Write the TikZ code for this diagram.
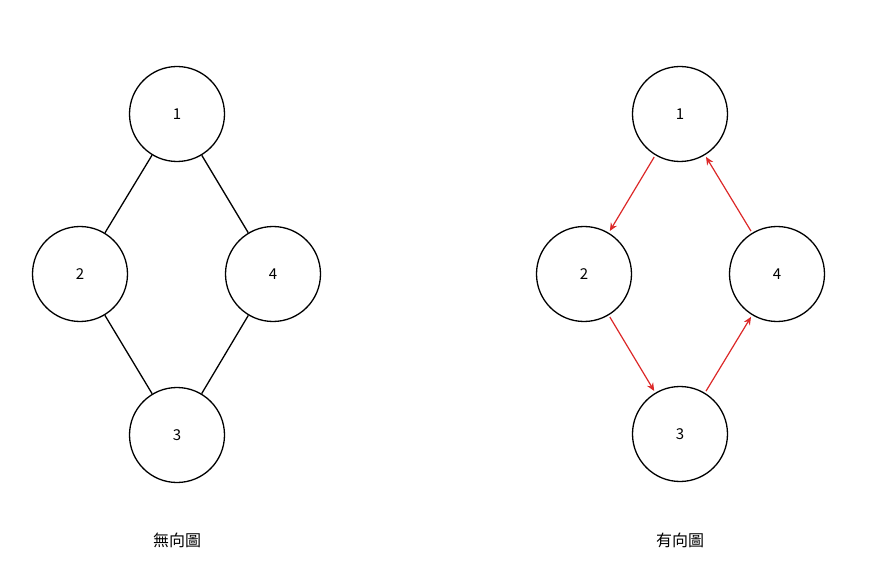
\documentclass[tikz,border=0pt]{standalone}
\usepackage{fontspec}
\newfontfamily\cjk{Noto Sans CJK TC}
\usetikzlibrary{arrows.meta,positioning}
\tikzset{
  vertex/.style={circle, draw, line width=1.3pt, minimum size=95pt, inner sep=0pt, font=\cjk\fontsize{15}{15}\selectfont},
  dirEdge/.style={-{Stealth[length=8pt,width=7pt]}, draw={rgb,255:red,220;green,40;blue,40}, line width=1.2pt, shorten <=2pt, shorten >=2pt},
  caption/.style={font=\cjk\fontsize{16}{16}\selectfont}
}
\begin{document}
\begin{tikzpicture}[x=1pt, y=-1pt]
  \useasboundingbox (0,0) rectangle (870,577);
  % undirected
  \node[vertex] (u1) at (177,114) {1};
  \node[vertex] (u2) at (80,274) {2};
  \node[vertex] (u4) at (273,274) {4};
  \node[vertex] (u3) at (177,435) {3};
  \draw[line width=1.3pt] (u1) -- (u2) (u1) -- (u4) (u2) -- (u3) (u4) -- (u3);
  \node[caption] (ucap) at (177,540) {無向圖};
  % directed
  \node[vertex] (d1) at (680,114) {1};
  \node[vertex] (d2) at (584,274) {2};
  \node[vertex] (d4) at (777,274) {4};
  \node[vertex] (d3) at (680,434) {3};
  \path[dirEdge] (d1) -- (d2);
  \path[dirEdge] (d2) -- (d3);
  \path[dirEdge] (d3) -- (d4);
  \path[dirEdge] (d4) -- (d1);
  \node[caption] (dcap) at (680,540) {有向圖};
\end{tikzpicture}
\end{document}
